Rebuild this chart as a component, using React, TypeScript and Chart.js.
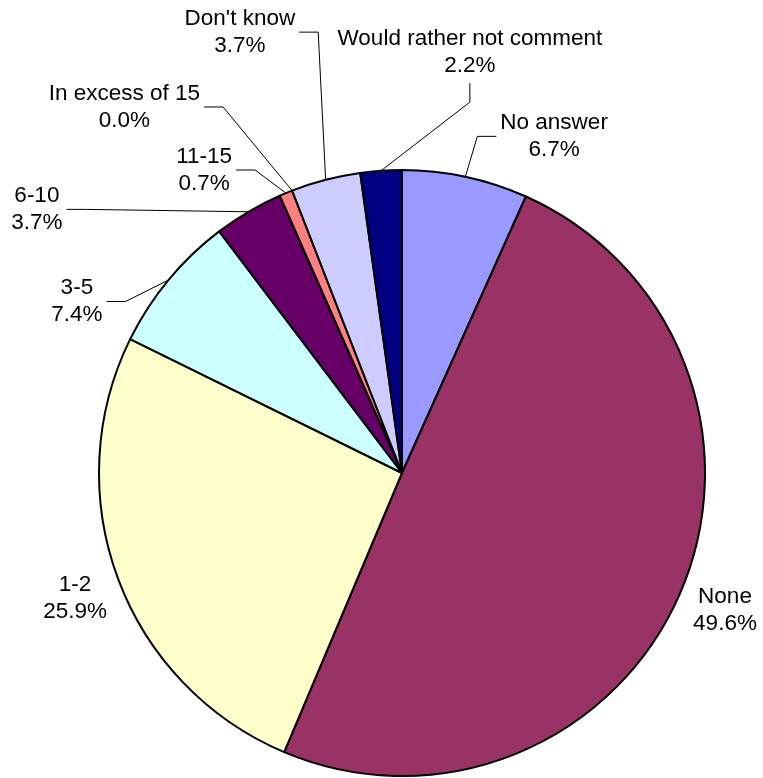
import React, { useEffect, useRef } from "react";
import { Chart, registerables } from "chart.js";

Chart.register(...registerables);

const categories = [
  "No answer",
  "None",
  "1-2",
  "3-5",
  "6-10",
  "11-15",
  "In excess of 15",
  "Don't know",
  "Would rather not comment",
];

const percentages = [6.7, 49.6, 25.9, 7.4, 3.7, 0.7, 0.0, 3.7, 2.2];

const sliceColors = [
  "#9999FF",
  "#993366",
  "#FFFFCC",
  "#CCFFFF",
  "#660066",
  "#FF8080",
  "#0066CC",
  "#CCCCFF",
  "#000080",
];

// label block centre relative to pie centre, in units of the pie radius; side where leader attaches
const labelDX = [0.502, 1.066, -1.079, -1.073, -1.205, -0.653, -0.916, -0.535, 0.224];
const labelDY = [-1.111, 0.452, 0.414, -0.566, -0.87, -1.0, -1.208, -1.455, -1.389];
const leaderSide = ["left", "none", "none", "right", "right", "right", "right", "right", "bottom"];

const FONT = '22.5px "Liberation Sans", Arial, sans-serif';
const LINE_H = 27;

const labelPlugin = {
  id: "pieLabels",
  afterDraw(chart: any) {
    const ctx = chart.ctx;
    const meta = chart.getDatasetMeta(0);
    ctx.save();
    ctx.font = FONT;
    ctx.fillStyle = "#000";
    ctx.textAlign = "center";
    ctx.textBaseline = "middle";
    meta.data.forEach((arc: any, i: number) => {
      const cx = arc.x;
      const cy = arc.y;
      const R = arc.outerRadius;
      const mid = (arc.startAngle + arc.endAngle) / 2;
      const ex = cx + Math.cos(mid) * R;
      const ey = cy + Math.sin(mid) * R;
      const bx = cx + labelDX[i] * R;
      const by = cy + labelDY[i] * R;
      const l1 = categories[i];
      const l2 = percentages[i].toFixed(1) + "%";
      ctx.fillText(l1, bx, by - LINE_H / 2);
      ctx.fillText(l2, bx, by + LINE_H / 2);
      const w = Math.max(ctx.measureText(l1).width, ctx.measureText(l2).width);
      const side = leaderSide[i];
      if (side === "none") return;
      let sx = bx, sy = by, kx = bx, ky = by;
      if (side === "right") {
        sx = bx + w / 2 + 4;
        kx = sx + 19;
      } else if (side === "left") {
        sx = bx - w / 2 - 4;
        kx = sx - 19;
      } else if (side === "bottom") {
        sy = by + LINE_H + 4;
        ky = sy + 19;
      }
      ctx.beginPath();
      ctx.strokeStyle = "#000";
      ctx.lineWidth = 1;
      ctx.moveTo(sx, sy);
      ctx.lineTo(kx, ky);
      ctx.lineTo(ex, ey);
      ctx.stroke();
    });
    ctx.restore();
  },
};

export default function App() {
  const ref = useRef<HTMLCanvasElement | null>(null);
  useEffect(() => {
    if (!ref.current) return;
    const chart = new Chart(ref.current, {
      type: "pie",
      data: {
        labels: categories,
        datasets: [
          {
            data: percentages,
            backgroundColor: sliceColors,
            borderColor: "#000",
            borderWidth: 2,
          },
        ],
      },
      options: {
        responsive: false,
        animation: false,
        devicePixelRatio: 1,
        radius: 303,
        layout: { padding: { left: 99, right: 58, top: 170, bottom: 2 } },
        plugins: {
          legend: { display: false },
          tooltip: { enabled: false },
        },
      } as any,
      plugins: [labelPlugin],
    });
    return () => chart.destroy();
  }, []);
  return (
    <div style={{ position: "absolute", left: 0, top: 0, width: 763, height: 778, background: "#fff" }}>
      <canvas ref={ref} width={763} height={778} style={{ width: 763, height: 778 }} />
    </div>
  );
}
